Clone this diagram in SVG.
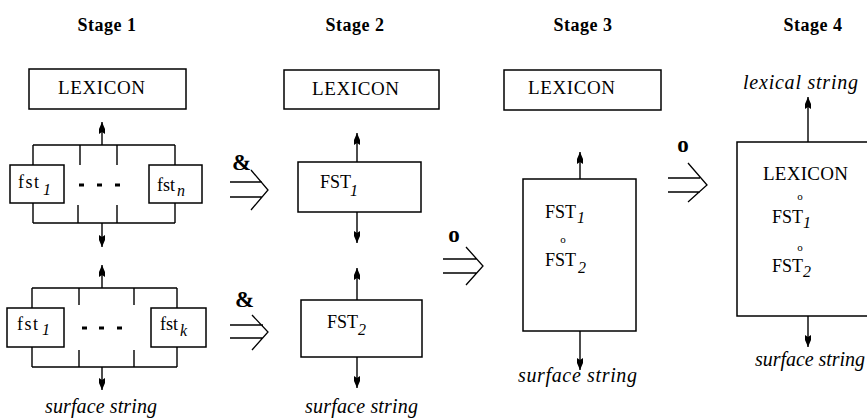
<svg xmlns="http://www.w3.org/2000/svg" width="867" height="418" viewBox="0 0 867 418">
<style>
.box{fill:#fff;stroke:#000;stroke-width:1.5}
.ln{fill:none;stroke:#000;stroke-width:1.4}
.arr{fill:none;stroke:#000;stroke-width:1.4;marker-end:url(#ah)}
.dbl{fill:none;stroke:#000;stroke-width:1.3}
.title{font-family:"Liberation Serif",serif;font-weight:bold;font-size:18px}
.lex{font-family:"Liberation Serif",serif;font-size:19px}
.lbl{font-family:"Liberation Serif",serif;font-size:18px}
.sub{font-style:italic;font-size:16px;letter-spacing:0}
.it{font-family:"Liberation Serif",serif;font-style:italic;font-size:20px}
.op{font-family:"Liberation Serif",serif;font-weight:bold;font-size:23px}
.sop{font-family:"Liberation Serif",serif;font-size:11px}
</style>
<defs>
<marker id="ah" viewBox="-13 -4 14 8" refX="0" refY="0" markerWidth="14" markerHeight="8" markerUnits="userSpaceOnUse" orient="auto">
<path d="M0,0 L-7,-3 L-12,-3 L-10,0 L-12,3 L-7,3 Z" fill="#000"/>
</marker>
</defs>
<rect width="867" height="418" fill="#fff"/>

<g id="titles">
<text class="title" x="107" y="31" text-anchor="middle" letter-spacing="0.5">Stage 1</text>
<text class="title" x="355" y="31" text-anchor="middle" letter-spacing="0.5">Stage 2</text>
<text class="title" x="583" y="31" text-anchor="middle" letter-spacing="0.5">Stage 3</text>
<text class="title" x="813" y="31" text-anchor="middle" letter-spacing="0.5">Stage 4</text>
</g>

<!-- Stage 1 -->
<g id="s1-lexicon">
<rect class="box" x="29" y="69" width="157" height="40"/>
<text class="lex" x="58" y="94" textLength="87" lengthAdjust="spacing">LEXICON</text>
</g>
<g id="s1-fst-top">
<path class="ln" d="M33,145H175 M33,145V165 M80,145V165 M117,145V165 M175,145V165 M33,203V223 M78,205V223 M117,205V223 M175,203V223 M33,223H175"/>
<rect class="box" x="10" y="165" width="54" height="38"/>
<rect class="box" x="149" y="165" width="53" height="38"/>
<rect x="79" y="183.5" width="5" height="3"/>
<rect x="97" y="183.5" width="5" height="3"/>
<rect x="115" y="183.5" width="5" height="3"/>
<text class="lbl" x="18" y="188" font-size="19" letter-spacing="1.5">fst<tspan class="sub" x="43" y="195">1</tspan></text>
<text class="lbl" x="157" y="191">fst<tspan class="sub" x="177" y="196">n</tspan></text>
</g>
<g id="s1-fst-bottom">
<path class="ln" d="M32,288H177 M32,288V308 M79,288V305 M134,288V305 M177,288V308 M32,347V367 M79,350V367 M134,350V367 M177,347V367 M32,367H177"/>
<rect class="box" x="7" y="308" width="57" height="39"/>
<rect class="box" x="151" y="308" width="55" height="39"/>
<rect x="82" y="326.5" width="5" height="3"/>
<rect x="99" y="326.5" width="5" height="3"/>
<rect x="117" y="326.5" width="5" height="3"/>
<text class="lbl" x="17" y="330" font-size="19" letter-spacing="1.5">fst<tspan class="sub" x="42" y="335">1</tspan></text>
<text class="lbl" x="160" y="330">fst<tspan class="sub" x="180" y="336">k</tspan></text>
</g>
<text id="s1-surface" class="it" x="45" y="413" textLength="112" lengthAdjust="spacing">surface string</text>

<!-- Stage 2 -->
<g id="s2-lexicon">
<rect class="box" x="284" y="70" width="155" height="39"/>
<text class="lex" x="312" y="95" textLength="87" lengthAdjust="spacing">LEXICON</text>
</g>
<g id="s2-fst1">
<rect class="box" x="298" y="162" width="123" height="50"/>
<text class="lbl" x="320" y="188" font-size="16">FST<tspan class="sub" x="350" y="196">1</tspan></text>
</g>
<g id="s2-fst2">
<rect class="box" x="301" y="300" width="121" height="57"/>
<text class="lbl" x="327" y="328" font-size="16">FST<tspan class="sub" x="358" y="335">2</tspan></text>
</g>
<text id="s2-surface" class="it" x="305" y="413" textLength="113" lengthAdjust="spacing">surface string</text>

<!-- Stage 3 -->
<g id="s3-lexicon">
<rect class="box" x="504" y="70" width="157" height="40"/>
<text class="lex" x="528" y="94" textLength="87" lengthAdjust="spacing">LEXICON</text>
</g>
<g id="s3-fst12">
<rect class="box" x="523" y="179" width="113" height="152"/>
<text class="lbl" x="545" y="218">FST<tspan class="sub" x="577" y="223">1</tspan></text>
<text class="sop" x="563" y="243" text-anchor="middle">o</text>
<text class="lbl" x="545" y="266">FST<tspan class="sub" x="578" y="273">2</tspan></text>
</g>
<text id="s3-surface" class="it" x="518" y="382" textLength="119" lengthAdjust="spacing">surface string</text>

<!-- Stage 4 -->
<text id="s4-lexical" class="it" x="743" y="89" textLength="115" lengthAdjust="spacing">lexical string</text>
<g id="s4-all">
<rect class="box" x="737" y="142" width="140" height="174"/>
<text class="lex" x="763" y="180" textLength="85" lengthAdjust="spacing">LEXICON</text>
<text class="sop" x="800" y="200" text-anchor="middle">o</text>
<text class="lbl" x="772" y="223" font-size="17">FST<tspan class="sub" x="803" y="228">1</tspan></text>
<text class="sop" x="800" y="251" text-anchor="middle">o</text>
<text class="lbl" x="772" y="272" font-size="17">FST<tspan class="sub" x="803" y="277">2</tspan></text>
</g>
<text id="s4-surface" class="it" x="755" y="366" textLength="110" lengthAdjust="spacing">surface string</text>

<!-- operators -->
<g id="operators">
<text class="op" x="232" y="170" font-size="22">&amp;</text>
<path class="dbl" d="M230,182H262 M230,197H262 M251,170L268,190L251,210"/>
<text class="op" x="235" y="307" font-size="22">&amp;</text>
<path class="dbl" d="M230,325H263 M230,338H263 M252,315L268,332L252,350"/>
<text class="op" x="454" y="242" text-anchor="middle">o</text>
<path class="dbl" d="M443,259H477 M443,273H477 M466,247L483,266L466,285"/>
<text class="op" x="683" y="152" text-anchor="middle">o</text>
<path class="dbl" d="M668,178H700 M668,192H700 M688,163L707,185L688,202"/>
</g>

<g id="connectors">
<path class="arr" d="M102,145V122"/>
<path class="arr" d="M102,223V247"/>
<path class="arr" d="M102,288V265"/>
<path class="arr" d="M102,367V390"/>
<path class="arr" d="M357,162V133"/>
<path class="arr" d="M357,212V243"/>
<path class="arr" d="M357,300V268"/>
<path class="arr" d="M357,357V388"/>
<path class="arr" d="M580,179V152"/>
<path class="arr" d="M580,331V370"/>
<path class="arr" d="M808,142V97"/>
<path class="arr" d="M808,316V347"/>
</g>
</svg>
